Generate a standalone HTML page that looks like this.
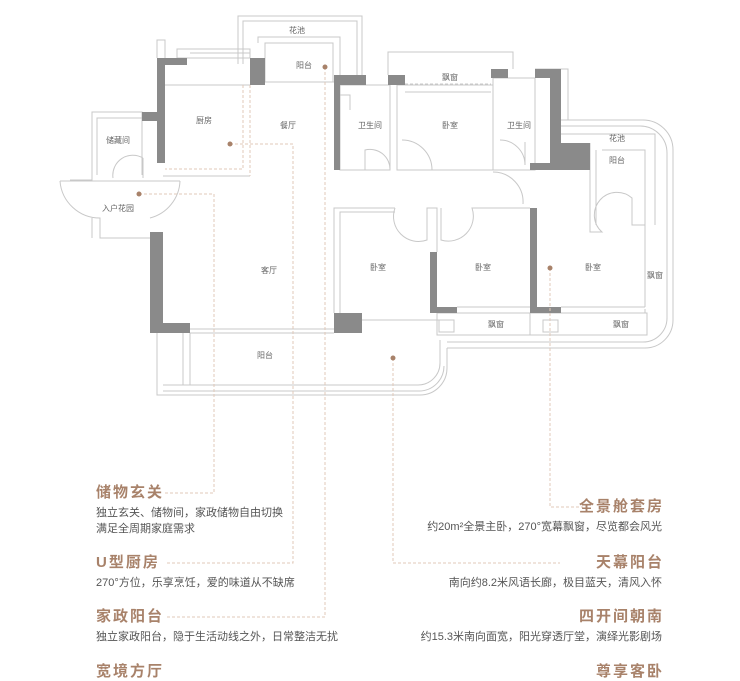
<!DOCTYPE html>
<html><head><meta charset="utf-8"><style>
html,body{margin:0;padding:0;background:#fff;}
body{width:740px;height:681px;overflow:hidden;position:relative;font-family:"Liberation Sans","Noto Sans CJK SC",sans-serif;}
svg{position:absolute;left:0;top:0;}
.h{position:absolute;color:#a8826a;font-weight:bold;font-size:15px;letter-spacing:2px;line-height:18px;white-space:nowrap;}
.d{position:absolute;color:#555;font-size:11px;line-height:16px;white-space:nowrap;}
.r{text-align:right;}
</style></head><body>
<svg width="740" height="681" viewBox="0 0 740 681">
<g fill="none" stroke="#c8c8c8" stroke-width="1">
<!-- flower pool top -->
<path d="M238 64 V16 H362 V75"/><path d="M243 64 V21 H357 V75"/>
<path d="M258 43 V37 H340 V75"/><rect x="265" y="43" width="68" height="39"/>
<!-- kitchen top windows -->
<rect x="177" y="49" width="73" height="9"/><line x1="190" y1="53" x2="250" y2="53"/>
<path d="M157 58 V40 H165 V58"/>
<!-- storage -->
<path d="M142 175 V112 H92 V180 H70"/><path d="M97 175 V118 H142"/>
<path d="M143 158 A20 20 0 0 0 113 178"/><line x1="143" y1="158" x2="143" y2="178"/>
<path d="M60 181 A40 40 0 0 0 100 218 V238 H150"/><path d="M180 181 A40 40 0 0 1 150 218"/>
<path d="M92 218 V238"/><line x1="60" y1="181" x2="180" y2="181"/>
<!-- main living outline -->
<line x1="165" y1="85" x2="250" y2="85"/>
<line x1="265" y1="82" x2="334" y2="82"/>
<line x1="190" y1="329" x2="334" y2="329"/>
<line x1="190" y1="333" x2="334" y2="333"/>
<line x1="163" y1="176" x2="250" y2="176"/>
<!-- balcony bottom -->
<path d="M183 333 V385"/><path d="M190 333 V385"/>
<path d="M157 333 V395 H420 A27 27 0 0 0 447 368 V348"/>
<path d="M163 385 H418 A22 22 0 0 0 440 363 V340"/>
<path d="M163 391 H419 A25 25 0 0 0 444 366"/>
<line x1="362" y1="320" x2="440" y2="320"/>
<!-- bath left -->
<rect x="340" y="85" width="50" height="85"/>
<path d="M340 95 H350 V110"/>
<path d="M390 170 A20 20 0 0 0 365 150 V170"/>
<!-- top bedroom -->
<path d="M388 75 V52 H513 V69"/><line x1="405" y1="92" x2="491" y2="92"/>
<rect x="397" y="85" width="96" height="85"/>
<path d="M402 140 A30 30 0 0 1 432 170"/>
<line x1="405" y1="84" x2="491" y2="84" stroke-dasharray="3 2"/>
<!-- bath right -->
<rect x="493" y="78" width="42" height="92"/>
<path d="M500 140 A25 25 0 0 1 525 165 V142"/>
<path d="M535 69 H568 V120"/>
<!-- corridor door -->
<path d="M493 172 A30 30 0 0 1 523 204"/>
<!-- bedrooms lower -->
<path d="M334 313 V208 H395"/><path d="M340 313 V212 H395"/>
<path d="M395 208 A25 25 0 0 0 427 240 V208 H437 V252"/>
<path d="M441 208 V240 A25 25 0 0 0 472 208 H530"/>
<line x1="457" y1="307" x2="530" y2="307"/>
<line x1="561" y1="307" x2="645" y2="307"/>
<!-- right balcony -->
<path d="M590 143 V232 H602 A20 20 0 0 1 632 198 V225 H645 V307"/>
<path d="M596 150 V225"/><path d="M602 150 H645 V225"/>
<path d="M561 120 H643 A30 30 0 0 1 673 150 V320 A28 28 0 0 1 645 348 H447"/>
<path d="M561 126 H640 A27 27 0 0 1 667 153 V318 A24 24 0 0 1 643 342 H447"/>
<path d="M561 134 H655 V225"/>
<rect x="437" y="313" width="210" height="22"/>
<line x1="530" y1="313" x2="530" y2="335"/>
<rect x="439" y="320" width="15" height="12"/><rect x="543" y="320" width="15" height="12"/>
<path d="M645 232 V313" stroke-dasharray="4 3"/>
</g>
<!-- dark walls -->
<g fill="#8a8a8a">
<rect x="157" y="58" width="8" height="105"/><rect x="157" y="58" width="30" height="7"/>
<rect x="250" y="58" width="15" height="27"/>
<rect x="142" y="112" width="15" height="9"/>
<rect x="150" y="232" width="13" height="101"/><rect x="150" y="323" width="40" height="10"/>
<rect x="334" y="313" width="28" height="20"/>
<rect x="334" y="75" width="6" height="95"/><rect x="334" y="75" width="32" height="10"/>
<rect x="388" y="75" width="17" height="10"/>
<rect x="491" y="69" width="17" height="9"/>
<rect x="535" y="69" width="26" height="9"/><rect x="550" y="69" width="11" height="101"/>
<rect x="530" y="163" width="60" height="7"/><rect x="561" y="143" width="29" height="27"/>
<rect x="430" y="252" width="7" height="61"/><rect x="430" y="307" width="27" height="6"/>
<rect x="530" y="208" width="7" height="105"/><rect x="530" y="307" width="31" height="6"/>
</g>
<!-- dashed guides -->
<g fill="none" stroke="#e0c9b8" stroke-width="1" stroke-dasharray="3 2">
<path d="M243 85 V169 H165"/><path d="M250 85 V176"/>
<path d="M230 144 H293 V563 H165"/>
<path d="M139 194 H214 V493 H165"/>
<path d="M325 67 V617 H165"/>
<path d="M393 358 V563 H560"/>
<path d="M550 268 V507 H583"/>
</g>
<g fill="#a8826a"><circle cx="230" cy="144" r="2.5"/><circle cx="139" cy="194" r="2.5"/><circle cx="325" cy="67" r="2.5"/><circle cx="393" cy="358" r="2.5"/><circle cx="550" cy="268" r="2.5"/></g>
<g font-family="Liberation Sans,Noto Sans CJK SC,sans-serif" font-size="8" fill="#666" text-anchor="middle">
<text x="297" y="33">花池</text><text x="304" y="68">阳台</text>
<text x="204" y="123">厨房</text><text x="288" y="128">餐厅</text>
<text x="118" y="143">储藏间</text><text x="118" y="211">入户花园</text>
<text x="269" y="273">客厅</text><text x="265" y="358">阳台</text>
<text x="370" y="128">卫生间</text><text x="450" y="80">飘窗</text>
<text x="450" y="128">卧室</text><text x="519" y="128">卫生间</text>
<text x="617" y="141">花池</text><text x="617" y="163">阳台</text>
<text x="378" y="270">卧室</text><text x="483" y="270">卧室</text><text x="593" y="270">卧室</text>
<text x="655" y="278">飘窗</text><text x="496" y="327">飘窗</text><text x="621" y="327">飘窗</text>
</g>
</svg>
<div class="h" style="left:96px;top:484px">储物玄关</div>
<div class="d" style="left:96px;top:505px">独立玄关、储物间，家政储物自由切换<br>满足全周期家庭需求</div>
<div class="h" style="left:96px;top:554px">U型厨房</div>
<div class="d" style="left:96px;top:575px">270°方位，乐享烹饪，爱的味道从不缺席</div>
<div class="h" style="left:96px;top:608px">家政阳台</div>
<div class="d" style="left:96px;top:629px">独立家政阳台，隐于生活动线之外，日常整洁无扰</div>
<div class="h" style="left:96px;top:663px">宽境方厅</div>
<div class="h r" style="right:76px;top:498px">全景舱套房</div>
<div class="d r" style="right:78px;top:519px">约20m²全景主卧，270°宽幕飘窗，尽览都会风光</div>
<div class="h r" style="right:76px;top:554px">天幕阳台</div>
<div class="d r" style="right:78px;top:575px">南向约8.2米风语长廊，极目蓝天，清风入怀</div>
<div class="h r" style="right:76px;top:608px">四开间朝南</div>
<div class="d r" style="right:78px;top:629px">约15.3米南向面宽，阳光穿透厅堂，演绎光影剧场</div>
<div class="h r" style="right:76px;top:663px">尊享客卧</div>
</body></html>
